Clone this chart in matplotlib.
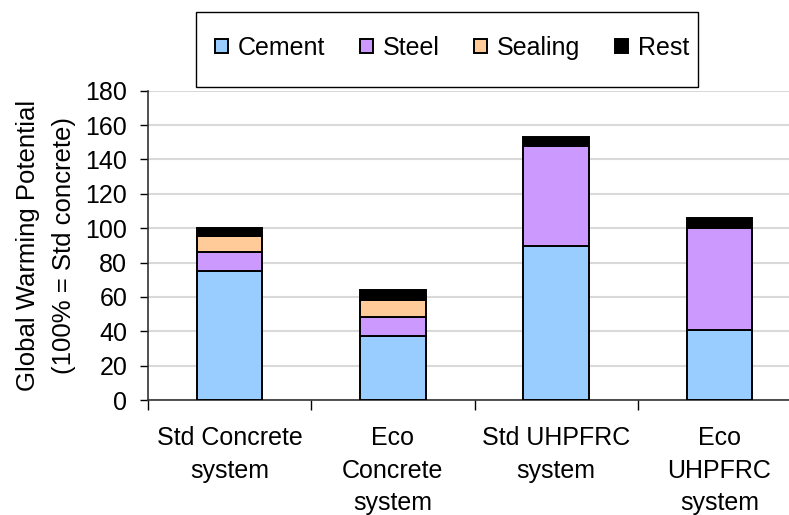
import numpy as np
import matplotlib
matplotlib.use('Agg')
import matplotlib.pyplot as plt
from matplotlib.patches import Rectangle

plt.rcParams['font.family'] = ['Liberation Sans', 'DejaVu Sans']

# Доли вклада по системам (100% = стандартный бетон)
systems = ["Std Concrete\nsystem", "Eco\nConcrete\nsystem",
           "Std UHPFRC\nsystem", "Eco\nUHPFRC\nsystem"]
cement = [75, 37, 89.5, 40.5]
steel = [11, 11.5, 58.5, 59.5]
sealing = [9.5, 9.5, 0, 0]
rest = [4.5, 6, 5, 6]

parts = [("Cement", cement, '#99CCFF'),
         ("Steel", steel, '#CC99FF'),
         ("Sealing", sealing, '#FFCC99'),
         ("Rest", rest, '#000000')]

W, H = 789, 515
fig = plt.figure(figsize=(W / 100, H / 100), dpi=100)
ax = fig.add_axes([148 / W, (H - 400) / H, (801 - 148) / W, (400 - 90.7) / H])

x = np.arange(len(systems))
bottom = np.zeros(len(systems))
for name, vals, color in parts:
    vals = np.array(vals, dtype=float)
    ax.bar(x, vals, 0.4, bottom=bottom, color=color, edgecolor='black',
           linewidth=1.4, label=name, zorder=3)
    bottom += vals

ax.set_ylim(0, 180)
ax.set_xlim(-0.5, len(systems) - 0.5)
ax.set_yticks(np.arange(0, 181, 20))
ax.yaxis.grid(True, color='#d9d9d9', linewidth=1.5, zorder=0)
ax.tick_params(axis='y', labelsize=18, length=6, width=1, direction='out', pad=9)

# деления между категориями, подписи по центру
ax.set_xticks(np.arange(-0.5, len(systems), 1.0))
ax.set_xticklabels([])
ax.tick_params(axis='x', which='major', length=7, width=1, direction='out')
ax.set_xticks(x, minor=True)
ax.set_xticklabels(systems, minor=True, fontsize=18, linespacing=1.45)
ax.tick_params(axis='x', which='minor', length=0, pad=19)

for s in ['top', 'right']:
    ax.spines[s].set_visible(False)
for s in ['left', 'bottom']:
    ax.spines[s].set_color('#333333')
    ax.spines[s].set_linewidth(1.2)

ax.set_ylabel("Global Warming Potential\n(100% = Std concrete)", fontsize=18.5,
              linespacing=1.6, labelpad=7)

# рамка легенды отдельно, чтобы задать её размер
fig.patches.append(Rectangle((196 / W, 1 - 87 / H), (698 - 196) / W, 75 / H,
                             transform=fig.transFigure, facecolor='white',
                             edgecolor='black', linewidth=1.0, zorder=5))
fig.legend(loc='center', bbox_to_anchor=(452 / W, 1 - 48 / H), ncol=4,
           fontsize=18, frameon=False,
           handlelength=0.5, handleheight=0.5, handletextpad=0.4,
           columnspacing=1.4)

fig.savefig('out.png', dpi=100)
